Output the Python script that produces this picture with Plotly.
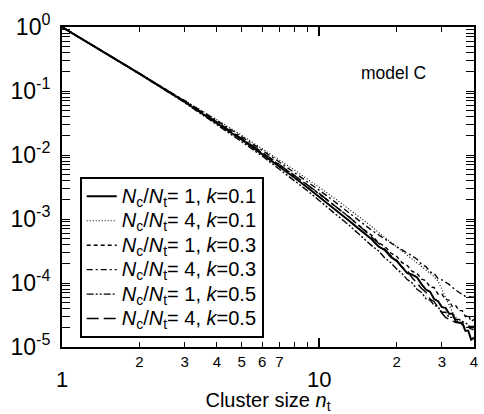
import plotly.graph_objects as go

n = list(range(1, 41))

s1 = [1.0, 0.187, 0.0673, 0.0316, 0.0173, 0.0103, 0.00662, 0.00446, 0.00311, 0.00224,
      0.00166, 0.00125, 9.57e-4, 7.46e-4, 5.89e-4, 4.83e-4, 3.73e-4, 3.26e-4, 2.56e-4, 2.22e-4,
      1.77e-4, 1.43e-4, 1.35e-4, 1.23e-4, 9.6e-5, 7.9e-5, 7.3e-5, 5.6e-5, 5.2e-5, 4.2e-5,
      4.1e-5, 3.3e-5, 3.3e-5, 2.5e-5, 2.4e-5, 2.4e-5, 1.8e-5, 1.8e-5, 1.3e-5, 1.4e-5]
s2 = [1.0, 0.191, 0.0721, 0.0355, 0.0203, 0.0127, 0.00834, 0.00587, 0.00420, 0.00316,
      0.00239, 0.00185, 0.00145, 0.00116, 9.33e-4, 7.66e-4, 6.19e-4, 5.16e-4, 4.35e-4, 3.69e-4,
      3.16e-4, 2.72e-4, 2.40e-4, 2.09e-4, 1.83e-4, 1.64e-4, 1.45e-4, 1.26e-4, 1.07e-4, 7.9e-5,
      5.9e-5, 4.5e-5, 3.5e-5, 2.9e-5, 2.4e-5, 2.2e-5, 2.1e-5, 2.0e-5, 1.9e-5, 1.8e-5]
s3 = [1.0, 0.187, 0.0689, 0.0324, 0.0181, 0.0108, 0.00710, 0.00478, 0.00341, 0.00245,
      0.00186, 0.00137, 0.00110, 8.38e-4, 6.76e-4, 5.55e-4, 4.29e-4, 3.74e-4, 2.94e-4, 2.61e-4,
      2.08e-4, 1.88e-4, 1.52e-4, 1.42e-4, 1.15e-4, 1.09e-4, 8.6e-5, 8.5e-5, 6.7e-5, 6.7e-5,
      5.5e-5, 5.4e-5, 4.2e-5, 4.4e-5, 3.7e-5, 3.7e-5, 3.0e-5, 3.2e-5, 2.5e-5, 2.7e-5]
s4 = [1.0, 0.191, 0.0705, 0.0347, 0.0194, 0.0119, 0.00778, 0.00536, 0.00383, 0.00282,
      0.00213, 0.00161, 0.00126, 0.00101, 8.13e-4, 6.67e-4, 5.65e-4, 4.82e-4, 4.15e-4, 3.69e-4,
      3.30e-4, 2.98e-4, 2.64e-4, 2.35e-4, 1.96e-4, 1.80e-4, 1.49e-4, 1.41e-4, 1.17e-4, 1.12e-4,
      1.03e-4, 9.5e-5, 8.5e-5, 7.7e-5, 7.1e-5, 6.7e-5, 6.2e-5, 6.1e-5, 6.0e-5, 6.0e-5]
s5 = [1.0, 0.185, 0.0658, 0.0302, 0.0161, 0.00964, 0.00604, 0.00397, 0.00277, 0.00195,
      0.00144, 0.00106, 8.15e-4, 6.21e-4, 4.90e-4, 3.84e-4, 3.18e-4, 2.47e-4, 2.08e-4, 1.65e-4,
      1.41e-4, 1.13e-4, 1.00e-4, 8.0e-5, 7.1e-5, 5.7e-5, 5.4e-5, 4.5e-5, 4.2e-5, 3.5e-5,
      3.5e-5, 2.9e-5, 2.9e-5, 2.7e-5, 2.7e-5, 2.5e-5, 2.4e-5, 2.2e-5, 1.9e-5, 1.9e-5]
s6 = [1.0, 0.189, 0.0689, 0.0331, 0.0181, 0.0111, 0.00710, 0.00489, 0.00341, 0.00251,
      0.00186, 0.00140, 0.00110, 8.57e-4, 6.61e-4, 5.30e-4, 4.19e-4, 3.41e-4, 2.68e-4, 2.28e-4,
      1.77e-4, 1.56e-4, 1.21e-4, 1.00e-4, 8.2e-5, 7.2e-5, 5.6e-5, 5.1e-5, 4.1e-5, 3.4e-5,
      2.9e-5, 2.7e-5, 2.5e-5, 2.4e-5, 2.4e-5, 2.3e-5, 2.1e-5, 2.1e-5, 2.1e-5, 2.1e-5]

ratio_labels = ["1", "4", "1", "4", "1", "4"]
k_labels = ["0.1", "0.1", "0.3", "0.3", "0.5", "0.5"]
series = [s1, s2, s3, s4, s5, s6]
dashes = ["solid", "1px,2px", "4px,3px", "6px,3px,2px,3px", "7px,2px,2px,2px,2px,2px", "12px,5px"]
widths = [2.0, 1.1, 1.4, 1.4, 1.4, 1.4]

x_tickvals = [1, 2, 3, 4, 5, 6, 7, 8, 9, 10, 20, 30, 40]
x_ticktext = ['<br><span style="font-size:22px">1</span>', "2", "3", "4", "5", "6", "7", "", "",
              '<br><span style="font-size:22px">10</span>', "2", "3", "4"]
y_tickvals = [1e-5, 1e-4, 1e-3, 1e-2, 1e-1, 1]
y_ticktext = ["10<sup>-5</sup>", "10<sup>-4</sup>", "10<sup>-3</sup>", "10<sup>-2</sup>",
              "10<sup>-1</sup>", "10<sup>0</sup>"]
y_minor = [m * 10.0 ** e for e in range(-5, 0) for m in range(2, 10)]

fig = go.Figure()
for s, r, k, d, w in zip(series, ratio_labels, k_labels, dashes, widths):
    lab = ('<span style="font-size:20px"><i>N</i><sub>c</sub>/<i>N</i><sub>t</sub>= '
           + r + ', <i>k</i>=' + k + '</span>')
    fig.add_trace(go.Scatter(x=n, y=s, mode="lines", name=lab,
                             line=dict(color="black", width=w, dash=d)))

# overlay axis for the longer decade ticks on x
fig.add_trace(go.Scatter(x=[1, 40], y=[1, 1], mode="lines", xaxis="x2",
                         line=dict(width=0), showlegend=False, hoverinfo="skip"))

font_family = "Liberation Sans, Arial, sans-serif"
fig.update_layout(
    width=484, height=414,
    margin=dict(l=62, r=6, t=27, b=65),
    paper_bgcolor="white", plot_bgcolor="white",
    font=dict(family=font_family, color="black"),
    showlegend=True,
    xaxis=dict(type="log", range=[0, 1.60206], tickvals=x_tickvals, ticktext=x_ticktext,
               ticks="inside", ticklen=5, tickwidth=1.3, tickcolor="black",
               showline=True, linewidth=2, linecolor="black", mirror="allticks",
               showgrid=False, zeroline=False, tickfont=dict(size=15),
               title=dict(text="Cluster size <i>n</i><sub>t</sub>", font=dict(size=20), standoff=2)),
    xaxis2=dict(type="log", range=[0, 1.60206], overlaying="x", side="bottom",
                tickvals=[1, 10], ticks="inside", ticklen=9, tickwidth=1.5, tickcolor="black",
                showticklabels=False, showline=False, mirror="ticks", showgrid=False, zeroline=False),
    yaxis=dict(type="log", range=[-5, 0], tickvals=y_tickvals, ticktext=y_ticktext,
               ticks="inside", ticklen=8, tickwidth=1.3, tickcolor="black",
               minor=dict(tickvals=y_minor, ticks="inside", ticklen=4, tickwidth=1, tickcolor="black"),
               showline=True, linewidth=2, linecolor="black", mirror="allticks",
               showgrid=False, zeroline=False, tickfont=dict(size=23), ticklabelstandoff=5),
    legend=dict(x=0.043, y=0.531, xanchor="left", yanchor="top",
                bordercolor="black", borderwidth=2, bgcolor="white",
                font=dict(size=16.5, family=font_family), tracegroupgap=0, itemwidth=30),
    annotations=[dict(text="model C", xref="paper", yref="paper", x=0.72, y=0.857,
                      xanchor="left", yanchor="middle", showarrow=False,
                      font=dict(size=17.5, family=font_family))],
)

fig.write_html("out.html")
